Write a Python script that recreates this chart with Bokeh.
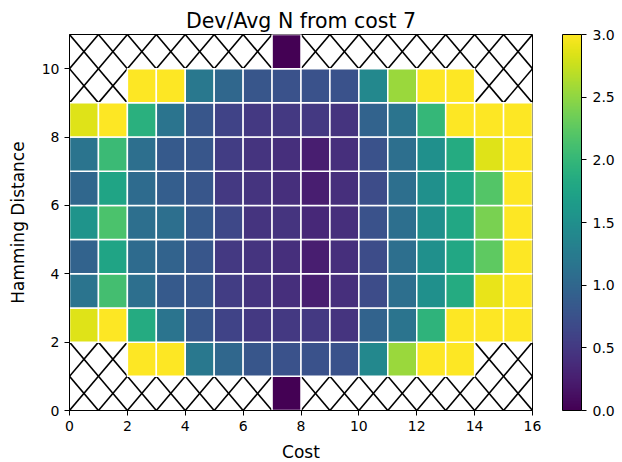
import math
from bokeh.plotting import figure
from bokeh.models import ColumnDataSource, LinearColorMapper, ColorBar, FixedTicker, PrintfTickFormatter
from bokeh.palettes import Viridis256
from bokeh.transform import linear_cmap
from bokeh.embed import file_html
from bokeh.resources import INLINE

nan = float("nan")

# Cost bins 0..15 (columns), Hamming distance 0..10 (rows); nan = no data (hatched)
costs = list(range(16))
hamming = list(range(11))
hd0 = [nan, nan, nan, nan, nan, nan, nan, 0.0, nan, nan, nan, nan, nan, nan, nan, nan]
hd1 = [nan, nan, 3.3, 3.3, 1.2, 1.0, 0.8, 0.75, 0.75, 0.75, 1.4, 2.55, 3.3, 3.3, nan, nan]
hd2 = [2.85, 3.2, 1.85, 1.15, 0.8, 0.6, 0.5, 0.5, 0.5, 0.45, 0.95, 1.15, 1.95, 3.2, 3.2, 3.2]
hd3 = [1.15, 2.1, 1.1, 0.85, 0.8, 0.55, 0.45, 0.4, 0.25, 0.4, 0.7, 1.1, 1.5, 1.85, 2.9, 3.2]
hd4 = [0.95, 1.75, 1.05, 0.95, 0.8, 0.5, 0.45, 0.4, 0.25, 0.4, 0.7, 1.1, 1.5, 1.8, 2.25, 3.2]
hd5 = [1.55, 2.15, 1.1, 1.1, 0.85, 0.65, 0.45, 0.45, 0.35, 0.4, 0.75, 1.1, 1.5, 1.8, 2.4, 3.2]
hd6 = [1.0, 1.75, 1.05, 0.9, 0.8, 0.5, 0.45, 0.4, 0.25, 0.4, 0.7, 1.1, 1.5, 1.8, 2.2, 3.2]
hd7 = [1.15, 2.05, 1.1, 0.85, 0.8, 0.55, 0.45, 0.4, 0.25, 0.4, 0.75, 1.1, 1.5, 1.85, 2.85, 3.2]
hd8 = [2.85, 3.2, 1.9, 1.15, 0.8, 0.6, 0.5, 0.5, 0.5, 0.45, 0.95, 1.15, 2.0, 3.2, 3.2, 3.2]
hd9 = [nan, nan, 3.3, 3.3, 1.2, 1.0, 0.8, 0.75, 0.75, 0.75, 1.4, 2.55, 3.3, 3.3, nan, nan]
hd10 = [nan, nan, nan, nan, nan, nan, nan, 0.0, nan, nan, nan, nan, nan, nan, nan, nan]
rows = [hd0, hd1, hd2, hd3, hd4, hd5, hd6, hd7, hd8, hd9, hd10]

x_ticks = [0, 2, 4, 6, 8, 10, 12, 14, 16]
y_ticks = [0, 2, 4, 6, 8, 10]
cbar_ticks = [0.0, 0.5, 1.0, 1.5, 2.0, 2.5, 3.0]
vmin, vmax = 0.0, 3.0

xs, ys, vs = [], [], []
hx0, hy0, hx1, hy1 = [], [], [], []
for r, row in zip(hamming, rows):
    for c, v in zip(costs, row):
        if math.isnan(v):
            hx0.append(c)
            hy0.append(r)
            hx1.append(c + 1)
            hy1.append(r + 1)
        else:
            xs.append(c + 0.5)
            ys.append(r + 0.5)
            vs.append(v)

FONT = "DejaVu Sans"
FW, FH = 463, 376

p = figure(frame_width=FW, frame_height=FH, x_range=(0, 16), y_range=(0, 11),
           output_backend="svg", toolbar_location=None,
           title="Dev/Avg N from cost 7",
           min_border_left=69, min_border_top=34, min_border_bottom=52, min_border_right=10)

p.background_fill_color = "white"
p.border_fill_color = "white"
p.outline_line_color = "black"
p.outline_line_width = 1
p.xgrid.visible = False
p.ygrid.visible = False

p.title.text_font = FONT
p.title.text_font_size = "20.5px"
p.title.text_font_style = "normal"
p.title.align = "center"
p.title.text_color = "black"
p.title.standoff = 4

# hatch for missing cells: an X across each empty cell
hsrc = ColumnDataSource(dict(x0=hx0, y0=hy0, x1=hx1, y1=hy1))
p.segment("x0", "y0", "x1", "y1", source=hsrc, line_color="black", line_width=1.6)
p.segment("x0", "y1", "x1", "y0", source=hsrc, line_color="black", line_width=1.6)

src = ColumnDataSource(dict(x=xs, y=ys, v=vs))
p.rect("x", "y", 1, 1, source=src, fill_color=linear_cmap("v", Viridis256, vmin, vmax),
       line_color="white", line_width=1.5)

for ax in (p.xaxis[0], p.yaxis[0]):
    ax.major_label_text_font = FONT
    ax.major_label_text_font_size = "14px"
    ax.major_label_text_color = "black"
    ax.axis_label_text_font = FONT
    ax.axis_label_text_font_size = "17px"
    ax.axis_label_text_font_style = "normal"
    ax.axis_label_text_color = "black"
    ax.major_tick_in = 0
    ax.major_tick_out = 5
    ax.minor_tick_line_color = None
    ax.axis_line_color = "black"
    ax.major_tick_line_color = "black"
    ax.major_label_standoff = 5

p.xaxis.ticker = FixedTicker(ticks=x_ticks)
p.yaxis.ticker = FixedTicker(ticks=y_ticks)
p.xaxis.axis_label = "Cost"
p.yaxis.axis_label = "Hamming Distance"
p.yaxis.axis_label_standoff = 11
p.xaxis.axis_label_standoff = 8

mapper = LinearColorMapper(palette=Viridis256, low=vmin, high=vmax)
cb = ColorBar(color_mapper=mapper, ticker=FixedTicker(ticks=cbar_ticks),
              formatter=PrintfTickFormatter(format="%.1f"),
              width=19, height=FH, padding=0, location=(30, 0),
              bar_line_color="black", bar_line_width=1,
              major_tick_line_color="black", major_tick_in=0, major_tick_out=5,
              minor_tick_line_color=None,
              label_standoff=6, major_label_text_font=FONT,
              major_label_text_font_size="14px", major_label_text_color="black",
              border_line_color=None, background_fill_color=None)
p.add_layout(cb, "right")

open("out.html", "w").write(file_html(p, INLINE))
